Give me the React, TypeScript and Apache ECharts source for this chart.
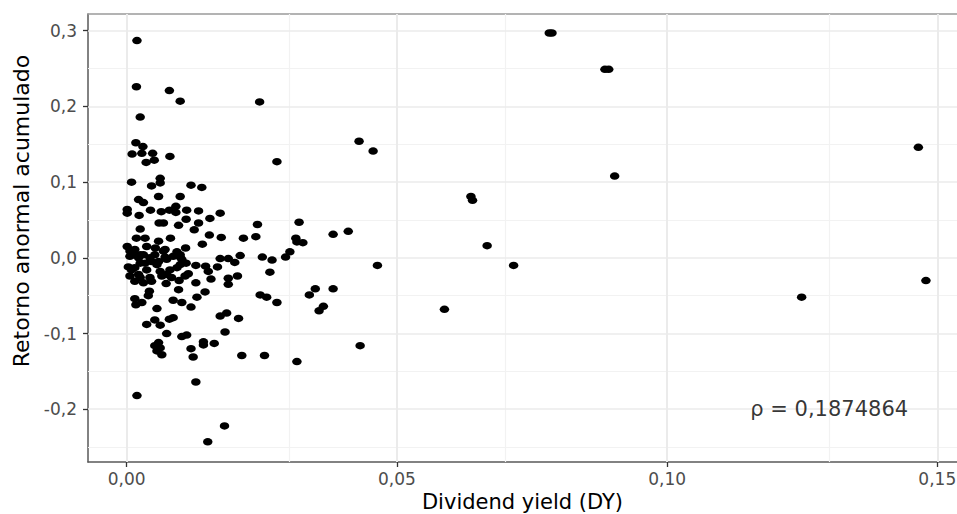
import React, { useEffect, useRef } from "react";
import * as echarts from "echarts";

// Dividend yield (x) and cumulative abnormal return (y)
const dividendYield = [
  0.0019, 0.0018, 0.0079, 0.0099, 0.0246, 0.0025, 0.0017, 0.0030, 0.0010, 0.0028,
  0.0048, 0.0036, 0.0051, 0.0080, 0.0430, 0.0456, 0.0278, 0.0009, 0.0062, 0.0062,
  0.0046, 0.0119, 0.0139, 0.0022, 0.0031, 0.0059, 0.0099, 0.0001, 0.0001, 0.0023,
  0.0044, 0.0064, 0.0079, 0.0091, 0.0091, 0.0111, 0.0133, 0.0173, 0.0154, 0.0110,
  0.0133, 0.0060, 0.0068, 0.0096, 0.0125, 0.0025, 0.0242, 0.0319, 0.0382, 0.0410,
  0.0313, 0.0326, 0.0315, 0.0302, 0.0294, 0.0251, 0.0269, 0.0464, 0.0153, 0.0175,
  0.0216, 0.0239, 0.0140, 0.0081, 0.0109, 0.0018, 0.0034, 0.0059, 0.0001, 0.0015,
  0.0037, 0.0053, 0.0071, 0.0093, 0.0006, 0.0025, 0.0043, 0.0071, 0.0099, 0.0173,
  0.0188, 0.0210, 0.0128, 0.0146, 0.0168, 0.0003, 0.0015, 0.0034, 0.0059, 0.0056,
  0.0080, 0.0093, 0.0099, 0.0110, 0.0006, 0.0015, 0.0025, 0.0031, 0.0043, 0.0046,
  0.0065, 0.0073, 0.0083, 0.0097, 0.0108, 0.0114, 0.0128, 0.0151, 0.0156, 0.0200,
  0.0188, 0.0188, 0.0205, 0.0265, 0.0096, 0.0042, 0.0040, 0.0015, 0.0017, 0.0028,
  0.0086, 0.0102, 0.0119, 0.0130, 0.0145, 0.0056, 0.0247, 0.0259, 0.0278, 0.0338,
  0.0349, 0.0382, 0.0356, 0.0364, 0.0432, 0.0173, 0.0185, 0.0207, 0.0079, 0.0086,
  0.0052, 0.0037, 0.0062, 0.0074, 0.0102, 0.0111, 0.0182, 0.0052, 0.0059, 0.0062,
  0.0056, 0.0065, 0.0119, 0.0123, 0.0142, 0.0142, 0.0162, 0.0213, 0.0255, 0.0315,
  0.0128, 0.0019, 0.0181, 0.0150, 0.0006, 0.0012, 0.0022, 0.0031, 0.0046, 0.0052,
  0.0068, 0.0074, 0.0086, 0.0099, 0.0102, 0.0025, 0.0009, 0.0037, 0.0062, 0.0022,
  0.0074, 0.0782, 0.0787, 0.0885, 0.0892, 0.0903, 0.0637, 0.0640, 0.0667, 0.0716,
  0.0588, 0.1465, 0.1479, 0.1249,
];
const abnormalReturn = [
  0.287, 0.226, 0.221, 0.207, 0.206, 0.186, 0.152, 0.147, 0.137, 0.138,
  0.138, 0.126, 0.129, 0.134, 0.154, 0.141, 0.127, 0.100, 0.105, 0.099,
  0.095, 0.096, 0.093, 0.077, 0.073, 0.081, 0.081, 0.064, 0.059, 0.056,
  0.063, 0.061, 0.063, 0.068, 0.060, 0.063, 0.062, 0.059, 0.052, 0.051,
  0.046, 0.046, 0.046, 0.043, 0.037, 0.038, 0.044, 0.047, 0.031, 0.035,
  0.026, 0.020, 0.021, 0.008, 0.001, 0.001, -0.003, -0.010, 0.030, 0.027,
  0.026, 0.028, 0.018, 0.026, 0.013, 0.026, 0.026, 0.022, 0.015, 0.011,
  0.015, 0.013, 0.011, 0.008, 0.002, 0.004, 0.000, 0.001, 0.001, -0.001,
  -0.001, 0.003, -0.010, -0.011, -0.012, -0.012, -0.013, -0.007, -0.005, -0.009,
  -0.016, -0.013, -0.009, -0.007, -0.024, -0.031, -0.026, -0.033, -0.026, -0.031,
  -0.024, -0.034, -0.026, -0.030, -0.024, -0.021, -0.033, -0.018, -0.028, -0.006,
  -0.027, -0.035, -0.024, -0.019, -0.042, -0.044, -0.050, -0.054, -0.062, -0.059,
  -0.056, -0.059, -0.065, -0.052, -0.045, -0.067, -0.049, -0.052, -0.059, -0.049,
  -0.041, -0.041, -0.070, -0.064, -0.116, -0.077, -0.073, -0.080, -0.081, -0.079,
  -0.082, -0.088, -0.089, -0.100, -0.104, -0.102, -0.098, -0.116, -0.112, -0.119,
  -0.123, -0.128, -0.120, -0.131, -0.111, -0.115, -0.113, -0.129, -0.129, -0.137,
  -0.164, -0.182, -0.222, -0.243, 0.009, 0.004, 0.000, 0.004, -0.005, 0.004,
  0.009, -0.002, 0.002, 0.004, -0.002, -0.007, -0.016, -0.016, -0.018, -0.022,
  -0.022, 0.297, 0.297, 0.249, 0.249, 0.108, 0.081, 0.076, 0.016, -0.010,
  -0.068, 0.146, -0.030, -0.052,
];

const xTicks = [0, 0.05, 0.1, 0.15];
const yTicks = [-0.2, -0.1, 0, 0.1, 0.2, 0.3];
const xMinorGrid = [0.025, 0.075, 0.125];
const yMinorGrid = [-0.25, -0.15, -0.05, 0.05, 0.15, 0.25];
const xRange = [-0.00716, 0.15365];
const yRange = [-0.2697, 0.3221];
const rhoLabel = "ρ = 0,1874864";
const rhoAt = [0.13, -0.2];
const xTitle = "Dividend yield (DY)";
const yTitle = "Retorno anormal acumulado";

const FONT = "DejaVu Sans";

export default function App() {
  const ref = useRef<HTMLDivElement>(null);
  useEffect(() => {
    if (!ref.current) return;
    const chart = echarts.init(ref.current, undefined, { renderer: "svg" });
    const points = dividendYield.map((x, i) => [x, abnormalReturn[i]]);
    const gridLines = [
      ...xMinorGrid.map((v) => ({ xAxis: v, lineStyle: { color: "#F2F2F2", width: 1.2 } })),
      ...yMinorGrid.map((v) => ({ yAxis: v, lineStyle: { color: "#F2F2F2", width: 1 } })),
      ...xTicks.map((v) => ({ xAxis: v, lineStyle: { color: "#EBEBEB", width: 2 } })),
      ...yTicks.map((v) => ({ yAxis: v, lineStyle: { color: "#EBEBEB", width: 1.5 } })),
    ];
    chart.setOption({
      animation: false,
      backgroundColor: "#ffffff",
      grid: {
        left: 88,
        top: 14,
        width: 869,
        height: 448,
        containLabel: false,
        outerBoundsMode: "none",
      },
      xAxis: [
        {
          type: "value",
          min: xRange[0],
          max: xRange[1],
          position: "bottom",
          axisLine: { show: true, onZero: false, lineStyle: { color: "#595959", width: 1.5 } },
          axisTick: { show: true, length: 5, customValues: xTicks, lineStyle: { color: "#333333", width: 1.3 } },
          axisLabel: {
            show: true,
            customValues: xTicks,
            formatter: (v: number) => v.toFixed(2).replace(".", ","),
            color: "#4D4D4D",
            fontSize: 17,
            fontFamily: FONT,
            margin: 8,
          },
          splitLine: { show: false },
          name: xTitle,
          nameLocation: "middle",
          nameGap: 28,
          nameTextStyle: { fontSize: 21, lineHeight: 21, color: "#000", fontFamily: FONT },
        },
        {
          type: "value",
          min: xRange[0],
          max: xRange[1],
          position: "top",
          axisLine: { show: true, onZero: false, lineStyle: { color: "#9A9A9A", width: 1.5 } },
          axisTick: { show: false },
          axisLabel: { show: false },
          splitLine: { show: false },
        },
      ],
      yAxis: {
        type: "value",
        min: yRange[0],
        max: yRange[1],
        axisLine: { show: true, onZero: false, lineStyle: { color: "#595959", width: 1.5 } },
        axisTick: { show: true, length: 5, customValues: yTicks, lineStyle: { color: "#333333", width: 1.3 } },
        axisLabel: {
          show: true,
          customValues: yTicks,
          formatter: (v: number) => v.toFixed(1).replace(".", ","),
          color: "#4D4D4D",
          fontSize: 17,
          fontFamily: FONT,
          margin: 11,
        },
        splitLine: { show: false },
        name: yTitle,
        nameLocation: "middle",
        nameGap: 55,
        nameRotate: 90,
        nameTextStyle: { fontSize: 22, color: "#000", fontFamily: FONT, padding: [0, 0, 0, 54] },
      },
      series: [
        {
          type: "scatter",
          data: [],
          z: 1,
          silent: true,
          markLine: {
            silent: true,
            z: 1,
            symbol: ["none", "none"],
            label: { show: false },
            lineStyle: { type: "solid" },
            emphasis: { disabled: true },
            data: gridLines,
          },
        },
        {
          type: "scatter",
          z: 3,
          data: points,
          symbol: "path://M1,0A1,1,0,1,1,-1,0A1,1,0,1,1,1,0Z",
          symbolKeepAspect: false,
          symbolSize: [9.5, 7.5],
          itemStyle: { color: "#000000", opacity: 1 },
          silent: true,
        },
        {
          type: "scatter",
          z: 4,
          data: [rhoAt],
          symbolSize: 1,
          itemStyle: { color: "rgba(0,0,0,0)" },
          silent: true,
          label: {
            show: true,
            position: "inside",
            formatter: rhoLabel,
            color: "#000000",
            fontSize: 21,
            fontFamily: FONT,
          },
        },
      ],
    });
    return () => chart.dispose();
  }, []);
  return (
    <div
      ref={ref}
      style={{ position: "fixed", left: 0, top: 0, width: 957, height: 514, background: "#fff" }}
    />
  );
}
